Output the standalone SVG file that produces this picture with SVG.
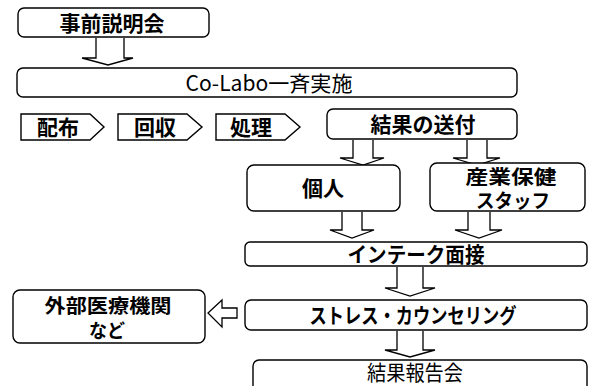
<svg xmlns="http://www.w3.org/2000/svg" width="591" height="386" viewBox="0 0 591 386">
<style>
.box{fill:#fff;stroke:#000;stroke-width:1.4}
.arr{fill:#fff;stroke:#000;stroke-width:1.3;stroke-linejoin:miter}
text{font-family:"Noto Sans CJK JP","Noto Sans",sans-serif;font-weight:bold;font-size:21px;fill:#000;text-anchor:middle;dominant-baseline:central}
.reg{font-weight:normal}
.two{font-size:19px}
</style>
<rect width="591" height="386" fill="#fff"/>
<g id="connectors">
<path class="arr" d="M96,38 V58 H82 L108,65 L133,58 H124 V38"/>
<path class="arr" d="M353,140 V158 H340 L363,165 L384,158 H373 V140"/>
<path class="arr" d="M467,140 V158 H453 L477,165 L500,158 H487 V140"/>
<path class="arr" d="M342,212 V230 H330 L352,238 L374,230 H362 V212"/>
<path class="arr" d="M468,212 V230 H455 L479,238 L502,230 H490 V212"/>
<path class="arr" d="M397,267 V288 H385 L410,296 L435,288 H423 V267"/>
<path class="arr" d="M397,331 V350 H385 L410,357 L435,350 H423 V331"/>
<path class="arr" d="M237,308 H222 V300 L208,313 L222,327 V318 H237 Z"/>
</g>
<g id="n1"><rect class="box" x="18" y="8" width="191" height="29" rx="6"/><text x="112" y="22">事前説明会</text></g>
<g id="n2"><rect class="box" x="17" y="68" width="500" height="29" rx="6"/><text x="269" y="82" class="reg" font-size="19" textLength="167" lengthAdjust="spacingAndGlyphs">Co-Labo一斉実施</text></g>
<g id="n3"><path class="box" d="M21,114 H90 L104,127 L90,140 H21 Z"/><text x="58" y="126">配布</text></g>
<g id="n4"><path class="box" d="M118,114 H187 L202,127 L187,140 H118 Z"/><text x="155" y="126">回収</text></g>
<g id="n5"><path class="box" d="M216,114 H285 L300,127 L285,140 H216 Z"/><text x="251" y="126">処理</text></g>
<g id="n6"><rect class="box" x="327" y="109" width="190" height="30" rx="6"/><text x="423" y="123">結果の送付</text></g>
<g id="n7"><rect class="box" x="247" y="165" width="153" height="46" rx="7"/><text x="323" y="187">個人</text></g>
<g id="n8"><rect class="box" x="430" y="163" width="155" height="48" rx="7"/><text x="511" y="175" class="two" textLength="91" lengthAdjust="spacingAndGlyphs">産業保健</text><text x="513" y="199" class="two" textLength="74" lengthAdjust="spacingAndGlyphs">スタッフ</text></g>
<g id="n9"><rect class="box" x="245" y="242" width="342" height="24" rx="5"/><text x="416" y="253" textLength="137" lengthAdjust="spacingAndGlyphs" font-size="19">インテーク面接</text></g>
<g id="n10"><rect class="box" x="245" y="300" width="342" height="30" rx="6"/><text x="413" y="314" textLength="207" lengthAdjust="spacingAndGlyphs" font-size="19">ストレス・カウンセリング</text></g>
<g id="n11"><rect class="box" x="253" y="360" width="334" height="40" rx="6"/><text x="415" y="371" class="reg" font-size="19" textLength="96" lengthAdjust="spacingAndGlyphs">結果報告会</text></g>
<g id="n12"><rect class="box" x="13" y="290" width="192" height="53" rx="7"/><text x="108" y="304" class="two" textLength="127" lengthAdjust="spacingAndGlyphs">外部医療機関</text><text x="107" y="329" class="two" textLength="36" lengthAdjust="spacingAndGlyphs">など</text></g>
</svg>
